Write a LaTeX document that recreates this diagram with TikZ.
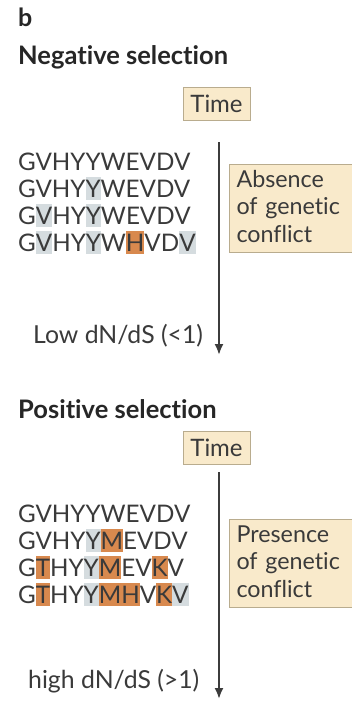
\documentclass[tikz,border=0pt]{standalone}
\usepackage{fontspec}
\setmainfont{Lato}[Ligatures=NoCommon]
\usetikzlibrary{arrows.meta}
\definecolor{txt}{HTML}{3A3A3A}
\definecolor{headc}{HTML}{262626}
\definecolor{boxfill}{HTML}{F9EACB}
\definecolor{boxline}{HTML}{B9AC8E}
\definecolor{hlocol}{HTML}{D8894E}
\definecolor{hlgcol}{HTML}{D5DCDF}
\definecolor{arrcol}{HTML}{3C3C3C}
\newcommand\myhl[2]{\setbox0\hbox{#2}\rlap{\color{#1}\rule[-3pt]{\wd0}{23.5pt}}\box0}
\newcommand\ho[1]{\myhl{hlocol}{#1}}
\newcommand\hg[1]{\myhl{hlgcol}{#1}}
\tikzset{
  seq/.style={anchor=base west, inner sep=0pt, text=txt, font=\fontsize{24.2}{24.2}\selectfont},
  lbl/.style={anchor=base west, inner sep=0pt, text=txt, font=\fontsize{24.8}{24.8}\selectfont},
  headtxt/.style={anchor=base west, inner sep=0pt, text=headc, font=\bfseries\fontsize{25.5}{25.5}\selectfont},
  timebox/.style={draw=boxline, fill=boxfill, line width=1pt, minimum width=67pt, minimum height=33pt, inner sep=0pt, text=txt, font=\fontsize{24}{24}\selectfont},
  notebox/.style={draw=boxline, fill=boxfill, line width=1pt, anchor=north west, minimum width=129pt, minimum height=88pt, text width=115pt, inner xsep=7pt, align=left, text=txt, font=\fontsize{23.3}{27.5}\selectfont},
  arr/.style={draw=arrcol, line width=2pt, -{Latex[length=11pt,width=9pt]}}
}
\begin{document}
\begin{tikzpicture}[x=1pt,y=-1pt]
\useasboundingbox (0,0) rectangle (352,701);
% Negative selection
\node[headtxt, font=\bfseries\fontsize{25}{25}\selectfont] (b) at (18,27) {b};
\node[headtxt] (neg) at (18,64) {Negative selection};
\node[timebox] (t1) at (216.5,103.5) {Time};
\coordinate (a1s) at (219,142);
\coordinate (a1e) at (219,355);
\draw[arr] (a1s) -- (a1e);
\node[seq] (n1) at (18,170) {GVHYYWEVDV};
\node[seq] (n2) at (18,197) {GVHY\hg{Y}WEVDV};
\node[seq] (n3) at (18,224) {G\hg{V}HY\hg{Y}WEVDV};
\node[seq] (n4) at (18,251) {G\hg{V}HY\hg{Y}W\ho{H}VD\hg{V}};
\node[notebox] (abs) at (229,164) {Absence\\of genetic\\conflict\vphantom{g}};
\node[lbl] (low) at (33,343) {Low dN/dS (<1)};
% Positive selection
\node[headtxt] (pos) at (18,418) {Positive selection};
\node[timebox] (t2) at (216.5,448) {Time};
\coordinate (a2s) at (219,472);
\coordinate (a2e) at (219,699);
\draw[arr] (a2s) -- (a2e);
\node[seq] (p1) at (18,522) {GVHYYWEVDV};
\node[seq] (p2) at (18,549) {GVHY\hg{Y}\ho{M}EVDV};
\node[seq] (p3) at (18,576) {G\ho{T}HY\hg{Y}\ho{M}EV\ho{K}V};
\node[seq] (p4) at (18,603) {G\ho{T}HY\hg{Y}\ho{M}\ho{H}V\ho{K}\hg{V}};
\node[notebox] (pres) at (229,519) {Presence\\of genetic\\conflict\vphantom{g}};
\node[lbl] (high) at (28,688) {high dN/dS (>1)};
\end{tikzpicture}
\end{document}
